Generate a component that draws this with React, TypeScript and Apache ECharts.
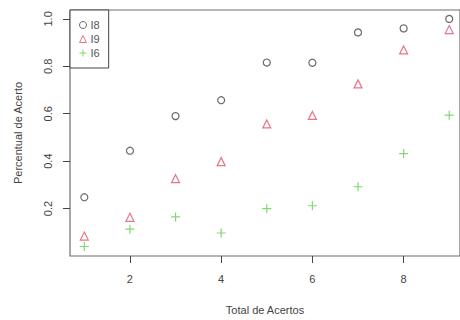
import React, { useEffect, useRef } from "react";
import * as echarts from "echarts";

const xValues = [1, 2, 3, 4, 5, 6, 7, 8, 9];
const i8 = [0.248, 0.444, 0.59, 0.657, 0.816, 0.815, 0.943, 0.96, 1.0];
const i9 = [0.084, 0.163, 0.326, 0.398, 0.557, 0.593, 0.726, 0.869, 0.955];
const i6 = [0.04, 0.113, 0.165, 0.097, 0.2, 0.212, 0.292, 0.432, 0.594];
const xTicks = [2, 4, 6, 8];
const yTicks = [0.2, 0.4, 0.6, 0.8, 1.0];
const seriesNames = ["I8", "I9", "I6"];

const FONT = "'Liberation Sans', Arial, sans-serif";
const PLUS = "path://M0,5L10,5M5,0L5,10";

export default function App() {
  const ref = useRef<HTMLDivElement>(null);
  useEffect(() => {
    const chart = echarts.init(ref.current!, null, { renderer: "svg" });
    const toPts = (arr: number[]) => xValues.map((x, i) => [x, arr[i]]);
    chart.setOption({
      animation: false,
      backgroundColor: "#ffffff",
      grid: {
        left: 70,
        top: 10,
        right: -5,
        bottom: 61,
        show: true,
        borderColor: "#6e6e6e",
        borderWidth: 1.2,
      },
      legend: {
        left: 70,
        top: 10,
        orient: "vertical",
        padding: [8, 9, 8, 7],
        itemGap: 0,
        itemWidth: 7,
        itemHeight: 7,
        borderColor: "#444",
        borderWidth: 1,
        backgroundColor: "#fff",
        itemStyle: { borderWidth: 1 },
        textStyle: { fontFamily: FONT, fontSize: 11, color: "#555", lineHeight: 14, padding: [0, 0, 0, -1] },
        data: seriesNames,
      },
      xAxis: {
        type: "value",
        min: 0.686,
        max: 9.236,
        name: "Total de Acertos",
        nameLocation: "middle",
        nameGap: 48,
        nameTextStyle: { fontFamily: FONT, fontSize: 11, color: "#444" },
        splitLine: { show: false },
        axisLine: { show: false },
        axisTick: {
          show: true,
          length: 7,
          customValues: xTicks,
          lineStyle: { color: "#444", width: 1 },
        },
        axisLabel: {
          customValues: xTicks,
          fontFamily: FONT,
          fontSize: 11,
          color: "#444",
          margin: 17,
        },
      },
      yAxis: {
        type: "value",
        min: 0,
        max: 1.0375,
        name: "Percentual de Acerto",
        nameLocation: "middle",
        nameRotate: 90,
        nameGap: 47,
        nameTextStyle: { fontFamily: FONT, fontSize: 11, color: "#444" },
        splitLine: { show: false },
        axisLine: { show: false },
        axisTick: {
          show: true,
          length: 7,
          customValues: yTicks,
          lineStyle: { color: "#444", width: 1 },
        },
        axisLabel: {
          customValues: yTicks,
          rotate: 90,
          fontFamily: FONT,
          fontSize: 11,
          color: "#444",
          margin: 17,
          formatter: (v: number) => v.toFixed(1),
        },
      },
      series: [
        {
          name: seriesNames[0],
          type: "scatter",
          symbol: "circle",
          symbolSize: 7,
          data: toPts(i8),
          itemStyle: { color: "none", borderColor: "#444", borderWidth: 1.2 },
        },
        {
          name: seriesNames[1],
          type: "scatter",
          symbol: "triangle",
          symbolSize: 8,
          data: toPts(i9),
          itemStyle: { color: "none", borderColor: "#DF536B", borderWidth: 1.2 },
        },
        {
          name: seriesNames[2],
          type: "scatter",
          symbol: PLUS,
          symbolSize: 9,
          data: toPts(i6),
          itemStyle: { color: "none", borderColor: "#61D04F", borderWidth: 1.2 },
        },
      ],
    });
    return () => chart.dispose();
  }, []);
  return (
    <div
      ref={ref}
      style={{ position: "absolute", left: 0, top: 0, width: 460, height: 320 }}
    />
  );
}
